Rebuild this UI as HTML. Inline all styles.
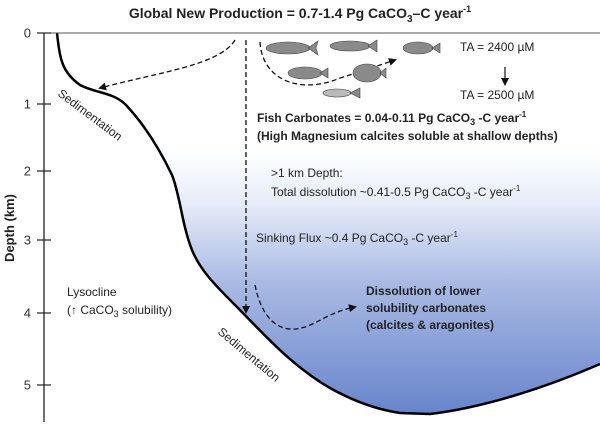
<!DOCTYPE html>
<html><head><meta charset="utf-8">
<style>
html,body{margin:0;padding:0;background:#fff;}
svg{display:block;font-family:"Liberation Sans",Arial,sans-serif;}
</style></head>
<body>
<svg id="fig" width="600" height="425" viewBox="0 0 600 425">
<defs>
<linearGradient id="sea" gradientUnits="userSpaceOnUse" x1="0" y1="150" x2="0" y2="415">
<stop offset="0" stop-color="#ffffff"/>
<stop offset="0.2" stop-color="#e6ecf8"/>
<stop offset="0.5" stop-color="#a9bae3"/>
<stop offset="1" stop-color="#6784cb"/>
</linearGradient>
<marker id="ah" markerWidth="8" markerHeight="8" refX="6" refY="4" orient="auto" markerUnits="userSpaceOnUse"><path d="M0,0 L8,4 L0,8 z" fill="#111"/></marker>
</defs>

<text x="300" y="18" text-anchor="middle" font-size="14" font-weight="bold" fill="#222">Global New Production = 0.7-1.4 Pg CaCO<tspan font-size="10" dy="4">3</tspan><tspan dy="-4">–C year</tspan><tspan font-size="9" dy="-6">-1</tspan></text>

<path d="M57,33 C60,60 62,72 80,85 C95,93 112,92 125,104 C145,125 160,150 172,175 C180,195 182,225 192,250 C200,270 215,285 235,305 C260,330 290,365 330,388 C355,402 380,410 400,413 L430,414 C480,408 540,390 600,364 L600,33 Z" fill="url(#sea)"/>
<path d="M57,33 C60,60 62,72 80,85 C95,93 112,92 125,104 C145,125 160,150 172,175 C180,195 182,225 192,250 C200,270 215,285 235,305 C260,330 290,365 330,388 C355,402 380,410 400,413 L430,414 C480,408 540,390 600,364" fill="none" stroke="#000" stroke-width="2.5"/>
<line x1="44" y1="33" x2="600" y2="33" stroke="#555" stroke-width="1"/>

<g id="axis">
<line x1="44" y1="33" x2="44" y2="422" stroke="#222" stroke-width="1.3"/>
</g>
<text transform="translate(14,228) rotate(-90)" text-anchor="middle" font-size="13" font-weight="bold" fill="#222">Depth (km)</text>

<path d="M235,40 C220,65 160,72 100,88" fill="none" stroke="#111" stroke-width="1.3" stroke-dasharray="5,3" marker-end="url(#ah)"/>
<path d="M246,40 L246,312" fill="none" stroke="#111" stroke-width="1.3" stroke-dasharray="5,3" marker-end="url(#ah)"/>
<path d="M260,42 C262,80 300,95 340,78 C360,72 380,65 395,60" fill="none" stroke="#111" stroke-width="1.3" stroke-dasharray="5,3" marker-end="url(#ah)"/>
<path d="M255,285 C262,320 280,335 305,327 C320,322 330,312 355,307" fill="none" stroke="#111" stroke-width="1.3" stroke-dasharray="5,3" marker-end="url(#ah)"/>
<line x1="505" y1="67" x2="505" y2="84" stroke="#111" stroke-width="1.2" marker-end="url(#ah)"/>

<g fill="#8a8a8a" stroke="#444" stroke-width="0.6">
<ellipse cx="288" cy="48" rx="22" ry="6"/><path d="M308,48 L318,41 L316,48 L318,55 Z"/>
<ellipse cx="350" cy="46" rx="20" ry="5"/><path d="M368,46 L377,40 L377,52 Z"/>
<ellipse cx="418" cy="48" rx="15" ry="6"/><path d="M432,48 L440,43 L440,53 Z"/>
<ellipse cx="305" cy="73" rx="17" ry="6"/><path d="M320,73 L328,68 L328,78 Z"/>
<ellipse cx="367" cy="73" rx="14" ry="9"/><path d="M380,73 L386,68 L386,78 Z"/>
<ellipse cx="337" cy="93" rx="14" ry="4" fill="#bbb"/><path d="M350,93 L360,88 L360,98 Z"/>
</g>

<g font-size="12" fill="#222">
<text x="460" y="51">TA = 2400 µM</text>
<text x="460" y="99">TA = 2500 µM</text>
<text x="257" y="122" font-weight="bold">Fish Carbonates = 0.04-0.11 Pg CaCO<tspan font-size="9" dy="3">3</tspan><tspan dy="-3"> -C year</tspan><tspan font-size="8" dy="-5">-1</tspan></text>
<text x="257" y="140" font-weight="bold">(High Magnesium calcites soluble at shallow depths)</text>
<text x="271" y="177">&gt;1 km Depth:</text>
<text x="271" y="196">Total dissolution ~0.41-0.5 Pg CaCO<tspan font-size="9" dy="3">3</tspan><tspan dy="-3"> -C year</tspan><tspan font-size="8" dy="-5">-1</tspan></text>
<text x="256" y="242">Sinking Flux ~0.4 Pg CaCO<tspan font-size="9" dy="3">3</tspan><tspan dy="-3"> -C year</tspan><tspan font-size="8" dy="-5">-1</tspan></text>
<text x="366" y="295" font-weight="bold">Dissolution of lower</text>
<text x="366" y="312" font-weight="bold">solubility carbonates</text>
<text x="366" y="329" font-weight="bold">(calcites &amp; aragonites)</text>
<text x="67" y="296">Lysocline</text>
<text x="67" y="314">(↑ CaCO<tspan font-size="9" dy="3">3</tspan><tspan dy="-3"> solubility)</tspan></text>
<text transform="translate(57,95) rotate(37)">Sedimentation</text>
<text transform="translate(217,333) rotate(40)">Sedimentation</text>
</g>
</svg>
<script>
var depthTicks = [0, 1, 2, 3, 4, 5];
var depthPixels = [33, 104, 171, 240, 313, 385];
function yScale(d){
  var i = Math.min(Math.floor(d), depthTicks.length - 2);
  return depthPixels[i] + (d - depthTicks[i]) * (depthPixels[i+1] - depthPixels[i]);
}
var ns = "http://www.w3.org/2000/svg";
var axis = document.getElementById("axis");
depthTicks.forEach(function(t){
  var y = yScale(t);
  var l = document.createElementNS(ns, "line");
  l.setAttribute("x1", 37); l.setAttribute("x2", 51);
  l.setAttribute("y1", y); l.setAttribute("y2", y);
  l.setAttribute("stroke", "#222"); l.setAttribute("stroke-width", "1.2");
  
  
  axis.appendChild(l);
  var tx = document.createElementNS(ns, "text");
  tx.setAttribute("x", 31); tx.setAttribute("y", y + 4.5);
  tx.setAttribute("text-anchor", "end"); tx.setAttribute("font-size", "13");
  tx.setAttribute("fill", "#333");
  tx.textContent = t;
  
  
  axis.appendChild(tx);
});
</script>
</body></html>
